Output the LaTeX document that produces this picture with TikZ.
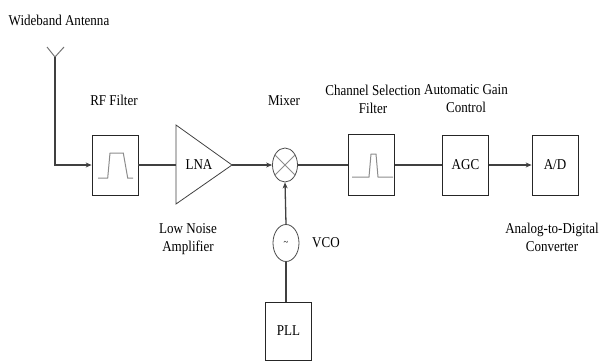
\documentclass[tikz,border=0pt]{standalone}
\usepackage{fontspec}
\setmainfont{Liberation Serif}[FakeStretch=0.87]
\usetikzlibrary{arrows.meta,shapes.geometric}
\tikzset{
  box/.style={draw=black!85, line width=0.8pt, minimum width=46pt, minimum height=60pt, inner sep=0pt, font=\fontsize{15}{18}\selectfont},
  conn/.style={draw=black!75, line width=1.3pt},
  arr/.style={conn, -{Stealth[length=6pt,width=5pt]}},
  curve/.style={draw=black!45, line width=1pt},
  lbl/.style={align=center, inner sep=0pt, font=\fontsize{15}{18}\selectfont},
  oval/.style={draw=black!70, line width=0.8pt, ellipse, inner sep=0pt}
}
\begin{document}
\begin{tikzpicture}[x=1pt,y=-1pt]
\useasboundingbox (0,0) rectangle (601,361);
% labels
\node[lbl] (tant) at (59,20) {Wideband Antenna};
\node[lbl] (trf) at (114,100) {RF Filter};
\node[lbl] (tmix) at (284,101) {Mixer};
\node[lbl] (tcsf) at (373,99) {Channel Selection\\Filter};
\node[lbl] (tagc) at (466,99) {Automatic Gain\\Control};
\node[lbl] (tlna) at (188,239) {Low Noise\\Amplifier};
\node[lbl] (tad) at (552,237) {Analog-to-Digital\\Converter};
\node[lbl] (tvco) at (326,243) {VCO};
% blocks
\node[box] (rf) at (115,165) {};
\node[box, minimum height=61pt] (csf) at (371.5,164.5) {};
\node[box] (agc) at (465.5,165) {AGC};
\node[box] (ad) at (555,165) {A/D};
\node[box, minimum height=58pt] (pll) at (288.5,331) {PLL};
\node[oval, minimum width=25pt, minimum height=34pt] (mix) at (285,165) {};
\node[oval, minimum width=26pt, minimum height=37pt, font=\fontsize{10}{12}\selectfont] (vco) at (286,243) {\textasciitilde};
% LNA
\coordinate (lnaL) at (176,165);
\coordinate (lnaT) at (232,165);
\draw[draw=black!75, line width=0.8pt] (176,125) -- (lnaT) -- (176,204) -- cycle;
\node[lbl] (lna) at (199,165) {LNA};
% mixer cross
\draw[draw=black!45, line width=0.8pt] (mix.45) -- (mix.225) (mix.135) -- (mix.-45);
% filter curves
\draw[curve] (98,178) -- (107.7,178) -- (110,153) -- (123.3,153) -- (127.7,178) -- (133,178);
\draw[curve] (352,177) -- (369,177) -- (371,154) -- (376,154) -- (378,177) -- (393,177);
% antenna
\coordinate (ant) at (55,57);
\draw[draw=black!55, line width=1pt] (47,47) -- (ant) -- (64,47);
% connectors
\draw[arr] (ant) |- (rf.west);
\draw[conn] (rf.east) -- (lnaL);
\draw[arr] (lnaT) -- (mix.west);
\draw[conn] (mix.east) -- (csf.west |- mix.east);
\draw[conn] (csf.east |- agc.west) -- (agc.west);
\draw[arr] (agc.east) -- (ad.west);
\draw[arr] (vco.north) -- (mix.south);
\draw[conn] (pll.north -| vco.south) -- (vco.south);
\end{tikzpicture}
\end{document}
